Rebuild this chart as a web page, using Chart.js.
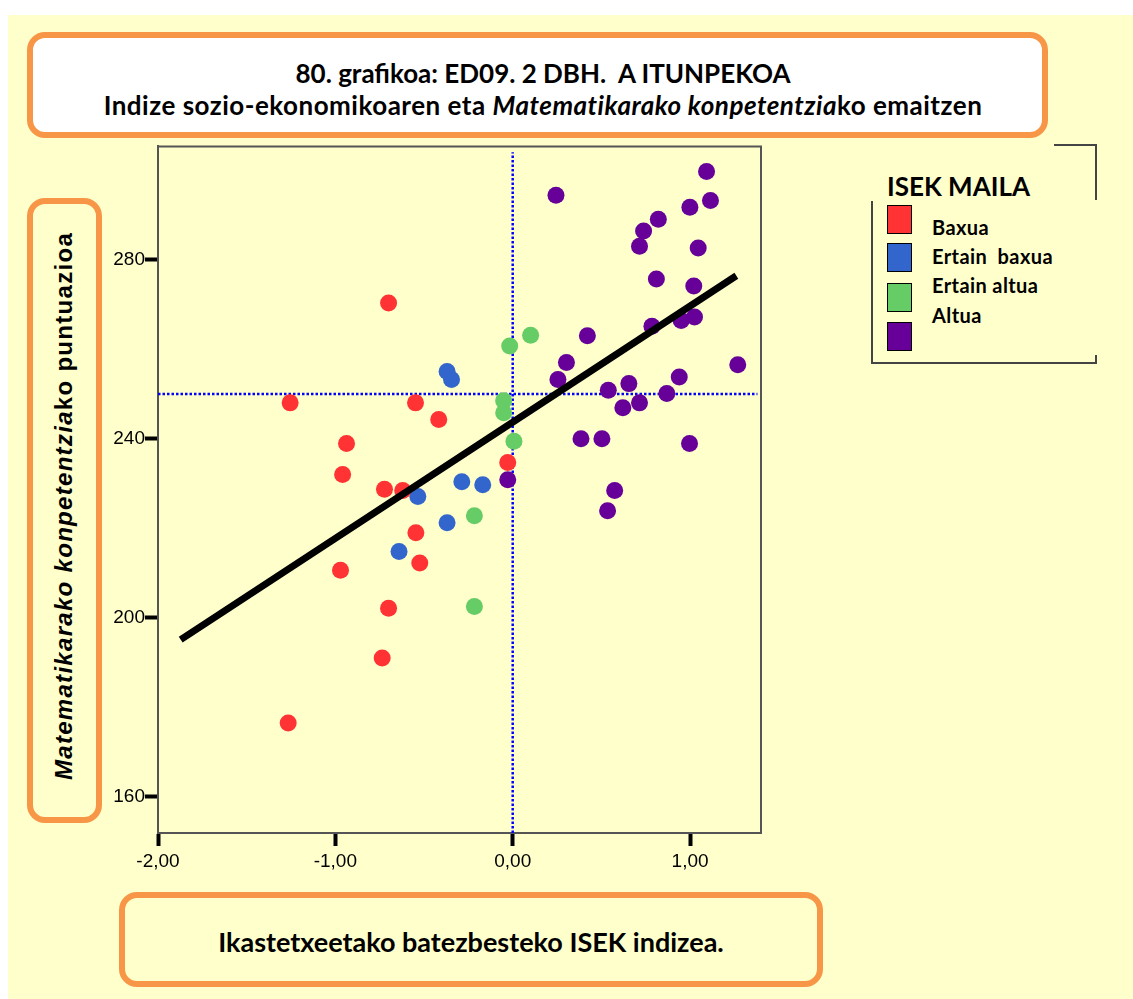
<!DOCTYPE html>
<html>
<head>
<meta charset="utf-8">
<script src="https://cdn.jsdelivr.net/npm/chart.js@4.4.1/dist/chart.umd.min.js"></script>
<style>
  body { margin: 0; background: #fff; width: 1133px; height: 999px; overflow: hidden; font-family: Lato, "Open Sans", sans-serif; }
  #bg { position: absolute; left: 8px; top: 15px; right: 0; bottom: 0; background: #FFFFCC; }
  .box { position: absolute; box-sizing: border-box; border: 6px solid #F79646; border-radius: 18px; }
  #titleBox { left: 27px; top: 32px; width: 1021px; height: 106px; background: #fff; color: #000; }
  .tl { position: absolute; left: 510px; transform: translate(-50%, -50%); white-space: nowrap; font-weight: bold; font-size: 26px; }
  #yBox { left: 27px; top: 198px; width: 75px; height: 625px; }
  #yTitle { position: absolute; left: 64px; top: 506px; transform: translate(-50%, -50%) rotate(-90deg); white-space: nowrap; font-family: "Liberation Sans", Arial, sans-serif; font-weight: bold; font-size: 24px; letter-spacing: 1.3px; }
  #xBox { left: 119px; top: 892px; width: 704px; height: 95px; }
  #xTitle { position: absolute; left: 471px; top: 941px; transform: translate(-50%, -50%); white-space: nowrap; font-weight: bold; font-size: 27px; }
  #chartWrap { position: absolute; left: 100px; top: 135px; width: 670px; height: 748px; }
  .ln { position: absolute; background: #444; }
  #legTitle { position: absolute; left: 887px; top: 186px; transform: translateY(-50%); font-weight: bold; font-size: 26px; }
  .sw { position: absolute; left: 887px; width: 25px; height: 29px; box-sizing: border-box; border: 1.5px solid #000; }
  .lab { position: absolute; left: 932px; font-weight: bold; font-size: 20px; letter-spacing: 0.4px; white-space: pre; transform: translateY(-50%); }
</style>
</head>
<body>
<div id="bg"></div>
<div class="box" id="titleBox">
  <div class="tl" style="top:35px">80. grafikoa: ED09. 2 DBH.&nbsp; A ITUNPEKOA</div>
  <div class="tl" style="top:67px;letter-spacing:0.5px">Indize sozio-ekonomikoaren eta <i>Matematikarako konpetentzia</i>ko emaitzen</div>
</div>
<div class="box" id="yBox"></div>
<div id="yTitle"><i>Matematikarako konpetentzia</i>ko puntuazioa</div>
<div class="box" id="xBox"></div>
<div id="xTitle">Ikastetxeetako batezbesteko ISEK indizea.</div>

<div class="ln" style="left:1054px;top:144px;width:43px;height:2px"></div>
<div class="ln" style="left:1095px;top:144px;width:2px;height:56px"></div>
<div class="ln" style="left:871px;top:201px;width:2px;height:163px"></div>
<div class="ln" style="left:871px;top:362px;width:226px;height:2px"></div>
<div class="ln" style="left:1095px;top:355px;width:2px;height:9px"></div>
<div id="legTitle">ISEK MAILA</div>
<div id="legend"></div>

<div id="chartWrap"><canvas id="chart"></canvas></div>

<script>
const groupNames = ['Baxua', 'Ertain  baxua', 'Ertain altua', 'Altua'];
const groupColors = ['#FF3333', '#3366CC', '#66CC66', '#660099'];

const baxuaX = [-1.255, -0.700, -0.548, -0.417, -0.937, -0.959, -0.723, -0.620, -0.546, -0.524, -0.971, -0.700, -0.736, -1.266, -0.028];
const baxuaY = [248.0, 270.3, 248.0, 244.3, 238.9, 232.0, 228.7, 228.4, 219.0, 212.2, 210.6, 202.1, 191.0, 176.5, 234.7];

const ertainBaxuaX = [-0.370, -0.345, -0.535, -0.287, -0.169, -0.370, -0.641];
const ertainBaxuaY = [255.0, 253.2, 227.1, 230.4, 229.7, 221.2, 214.8];

const ertainAltuaX = [-0.017, 0.101, -0.051, -0.051, 0.007, -0.216, -0.216];
const ertainAltuaY = [260.7, 263.1, 248.5, 245.8, 239.4, 222.8, 202.5];

const altuaX = [0.244, 1.093, 1.115, 0.999, 0.821, 0.738, 0.715, 1.046, 0.810, 1.021, 0.785, 0.950, 1.025, 0.421, 0.303,
  0.255, 1.269, 0.939, 0.655, 0.539, 0.869, 0.621, 0.715, 0.385, 0.503, 0.997, 0.575, 0.535, -0.028];
const altuaY = [294.4, 299.7, 293.2, 291.7, 289.0, 286.4, 283.0, 282.6, 275.7, 274.1, 265.1, 266.4, 267.2, 263.0, 257.0,
  253.2, 256.5, 253.8, 252.3, 250.8, 250.1, 246.9, 248.0, 240.0, 240.0, 238.9, 228.4, 223.9, 230.8];

// fit line end points
const fitX = [-1.872, 1.261];
const fitY = [195.1, 276.4];

// reference lines (mean values)
const refX = 0;
const refY = 250;

const xTicks = [-2, -1, 0, 1];
const yTicks = [160, 200, 240, 280];
const xMin = -2, xMax = 1.4;
const yMin = 151.9, yMax = 305.3;

function pts(xs, ys) {
  return xs.map((x, i) => ({ x: x, y: ys[i] }));
}

// legend
const legend = document.getElementById('legend');
const swTops = [205, 243, 283, 322];
const labY = [227, 256, 285, 315];
groupNames.forEach((name, i) => {
  const sw = document.createElement('div');
  sw.className = 'sw';
  sw.style.top = swTops[i] + 'px';
  sw.style.background = groupColors[i];
  legend.appendChild(sw);
  const lab = document.createElement('div');
  lab.className = 'lab';
  lab.style.top = labY[i] + 'px';
  lab.textContent = name;
  legend.appendChild(lab);
});

const frame = {
  id: 'frame',
  afterDraw(chart) {
    const { ctx, chartArea: a } = chart;
    ctx.save();
    ctx.strokeStyle = '#555';
    ctx.lineWidth = 2;
    ctx.beginPath();
    ctx.moveTo(a.left, a.top);
    ctx.lineTo(a.right, a.top);
    ctx.lineTo(a.right, a.bottom);
    ctx.stroke();
    ctx.restore();
  }
};

const groups = [[baxuaX, baxuaY], [ertainBaxuaX, ertainBaxuaY], [ertainAltuaX, ertainAltuaY], [altuaX, altuaY]];

const datasets = [
  {
    type: 'line', label: 'fit', data: pts(fitX, fitY),
    borderColor: '#000', borderWidth: 7, pointRadius: 0, fill: false, order: 0
  }
];
groups.forEach((g, i) => {
  datasets.push({
    type: 'scatter', label: groupNames[i], data: pts(g[0], g[1]),
    backgroundColor: groupColors[i], borderColor: groupColors[i], borderWidth: 0,
    pointRadius: 8.5, pointHoverRadius: 8.5, order: 1
  });
});
datasets.push({
  type: 'line', label: 'refY', data: [{ x: xMin, y: refY }, { x: 1.38, y: refY }],
  borderColor: '#0000FF', borderWidth: 2.5, borderDash: [2.5, 2], pointRadius: 0, order: 2
});
datasets.push({
  type: 'line', label: 'refX', data: [{ x: refX, y: yMin }, { x: refX, y: 304 }],
  borderColor: '#0000FF', borderWidth: 2.5, borderDash: [2.5, 2], pointRadius: 0, order: 2
});

new Chart(document.getElementById('chart'), {
  type: 'scatter',
  data: { datasets: datasets },
  options: {
    responsive: true,
    maintainAspectRatio: false,
    animation: false,
    layout: { padding: { top: 10, right: 9, left: 0, bottom: 0 } },
    plugins: { legend: { display: false }, tooltip: { enabled: false } },
    scales: {
      x: {
        type: 'linear', min: xMin, max: xMax,
        afterBuildTicks: s => { s.ticks = xTicks.map(v => ({ value: v })); },
        afterFit: s => { s.height = 50; },
        grid: { drawOnChartArea: false, drawTicks: true, tickLength: 13, tickWidth: 4, tickColor: '#000' },
        border: { display: true, color: '#555', width: 2 },
        ticks: {
          padding: 4, color: '#000',
          font: { family: 'Liberation Sans', size: 19 },
          callback: v => v.toFixed(2).replace('.', ',')
        }
      },
      y: {
        type: 'linear', min: yMin, max: yMax,
        afterBuildTicks: s => { s.ticks = yTicks.map(v => ({ value: v })); },
        afterFit: s => { s.width = 58; },
        grid: { drawOnChartArea: false, drawTicks: true, tickLength: 13, tickWidth: 4, tickColor: '#000' },
        border: { display: true, color: '#555', width: 2 },
        ticks: {
          padding: 0, color: '#000',
          font: { family: 'Liberation Sans', size: 19 },
          callback: v => String(v)
        }
      }
    }
  },
  plugins: [frame]
});
</script>
</body>
</html>
